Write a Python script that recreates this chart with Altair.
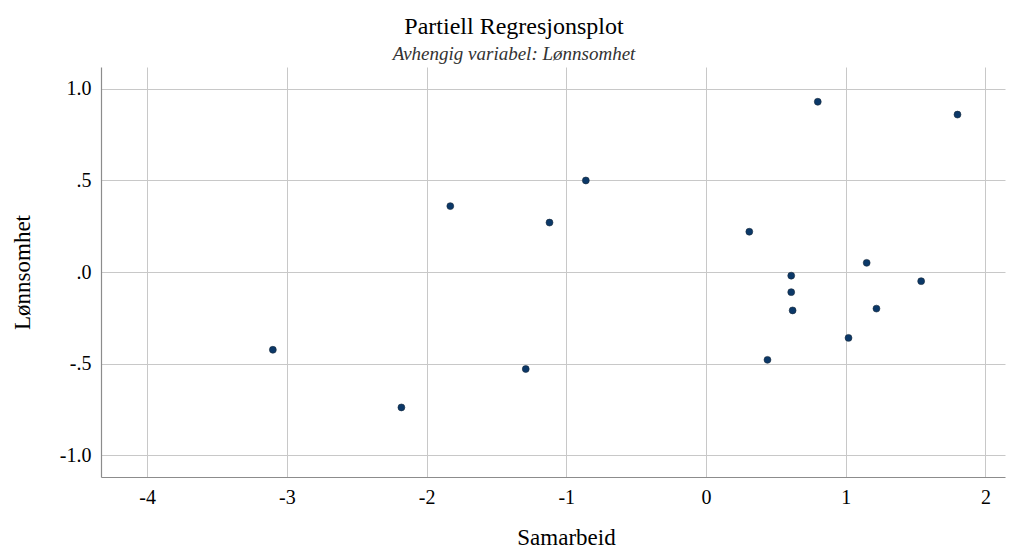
import altair as alt
import pandas as pd

samarbeid = [-3.10, -2.18, -1.83, -1.29, -1.12, -0.86, 0.31, 0.44, 0.61, 0.61, 0.62, 0.80, 1.02, 1.15, 1.22, 1.54, 1.80]
lonnsomhet = [-0.425, -0.74, 0.36, -0.53, 0.27, 0.50, 0.22, -0.48, -0.02, -0.11, -0.21, 0.93, -0.36, 0.05, -0.20, -0.05, 0.86]
x_ticks = [-4, -3, -2, -1, 0, 1, 2]
y_ticks = [-1.0, -0.5, 0.0, 0.5, 1.0]

df = pd.DataFrame({"Samarbeid": samarbeid, "Lønnsomhet": lonnsomhet})

FONT = "Liberation Serif"

ylabel = ("datum.value == 0 ? '.0' : datum.value == 0.5 ? '.5' : datum.value == -0.5 ? '-.5' : "
          "datum.value == 1 ? '1.0' : datum.value == -1 ? '-1.0' : ''")
xlabel = "datum.value < 0 ? '-' + abs(datum.value) : '' + datum.value"

chart = alt.Chart(df).mark_point(
    filled=True, size=48, color="#0b3868", opacity=1, stroke="#1a2a3a", strokeWidth=0.6
).encode(
    x=alt.X("Samarbeid:Q",
            scale=alt.Scale(domain=[-4.33, 2.14], nice=False, zero=False),
            axis=alt.Axis(values=x_ticks, title="Samarbeid", labelExpr=xlabel,
                          titleX=465, titleY=60, titleBaseline="middle",
                          labelPadding=10)),
    y=alt.Y("Lønnsomhet:Q",
            scale=alt.Scale(domain=[-1.12, 1.12], nice=False, zero=False),
            axis=alt.Axis(values=y_ticks, title="Lønnsomhet", labelExpr=ylabel,
                          titleX=-79, titleY=205, titleBaseline="middle", titleAngle=-90,
                          titleAlign="center", labelPadding=10)),
).properties(
    width=904, height=410,
    autosize=alt.AutoSizeParams(type="none"),
    padding={"left": 101, "top": 67, "right": 14, "bottom": 71},
    background="#ffffff",
    title=alt.TitleParams(
        text="Partiell Regresjonsplot",
        subtitle="Avhengig variabel: Lønnsomhet",
        font=FONT, fontSize=24, fontWeight="normal", color="#000000",
        subtitleFont=FONT, subtitleFontSize=19, subtitleFontStyle="italic",
        subtitleColor="#333333", subtitlePadding=6,
        anchor="middle", frame="bounds", offset=3, dx=6,
    ),
).configure_view(
    stroke=None
).configure_axis(
    labelFont=FONT, titleFont=FONT, labelFontSize=20, titleFontSize=23,
    labelColor="#000000", titleColor="#000000", titleFontWeight="normal",
    labelFontWeight="normal",
    grid=True, gridColor="#c8c8c8", gridWidth=1,
    domain=True, domainColor="#8c8c8c", domainWidth=1.2,
    ticks=False
)

chart.save("out.html", embed_options={"renderer": "svg", "actions": False})
